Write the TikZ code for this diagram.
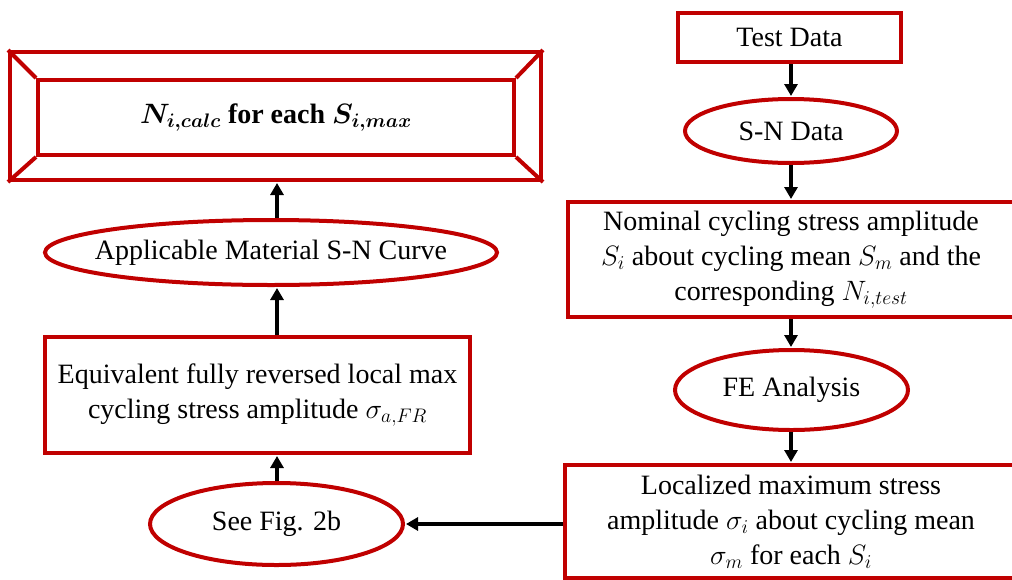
\RequirePackage{fix-cm}
\documentclass[tikz,border=0pt]{standalone}
\usepackage{fontspec}
\setmainfont{LiberationSerif}[Extension=.ttf, UprightFont=*-Regular, BoldFont=*-Bold, ItalicFont=*-Italic, BoldItalicFont=*-BoldItalic]
\usetikzlibrary{shapes.geometric,arrows.meta}
\definecolor{boxred}{HTML}{C00000}
\begin{document}
\begin{tikzpicture}[x=1pt,y=-1pt,
  redbox/.style={draw=boxred, line width=4pt, rectangle, inner sep=0pt},
  redell/.style={draw=boxred, line width=4pt, ellipse, inner sep=0pt},
  txt/.style={font=\fontsize{28}{35}\selectfont, align=center, inner sep=0pt},
  arr/.style={-{Triangle[length=12pt,width=13pt]}, line width=4pt, black, shorten >=1pt}]
\useasboundingbox (0,0) rectangle (1012,579);
% bevelled result box
\node[redbox, minimum width=531pt, minimum height=128pt] (outer) at (275.5,116) {};
\node[redbox, txt, font=\fontsize{28}{35}\selectfont\bfseries\boldmath, minimum width=476pt, minimum height=75pt] (inner) at (276,117.5) {$N_{i,calc}$ for each $S_{i,max}$};
\draw[boxred, line width=4pt] (outer.north west) -- (inner.north west);
\draw[boxred, line width=4pt] (outer.north east) -- (inner.north east);
\draw[boxred, line width=4pt] (outer.south west) -- (inner.south west);
\draw[boxred, line width=4pt] (outer.south east) -- (inner.south east);
% left column
\node[redell, minimum width=452pt, minimum height=65pt] (appl) at (271,252.5) {};
\node[txt] (applt) at (appl.center) {Applicable Material S-N Curve};
\node[redbox, txt, minimum width=425pt, minimum height=116pt] (equiv) at (257.5,395) {Equivalent fully reversed local max\\cycling stress amplitude $\sigma_{a,FR}$};
\node[redell, minimum width=253pt, minimum height=82pt] (seefig) at (276.5,524) {};
\node[txt] (seefigt) at (seefig.center) {See Fig. 2b};
% right column
\node[redbox, txt, minimum width=223pt, minimum height=49pt] (test) at (789.5,37.5) {Test Data};
\node[redell, minimum width=212pt, minimum height=64pt] (sn) at (791,131) {};
\node[txt] (snt) at (sn.center) {S-N Data};
\node[redbox, txt, minimum width=446pt, minimum height=115pt] (nom) at (791,259.5) {Nominal cycling stress amplitude\\$S_i$ about cycling mean $S_m$ and the\\corresponding $N_{i,test}$};
\node[redell, minimum width=233pt, minimum height=80pt] (fe) at (791.5,390) {};
\node[txt] (fet) at (fe.center) {FE Analysis};
\node[redbox, txt, minimum width=452pt, minimum height=113pt] (loc) at (791,521.5) {Localized maximum stress\\amplitude $\sigma_i$ about cycling mean\\$\sigma_m$ for each $S_i$};
% connectors
\coordinate (lc) at (277,0);
\coordinate (rc) at (791,0);
\draw[arr] (rc |- test.south) -- (rc |- sn.north);
\draw[arr] (rc |- sn.south) -- (rc |- nom.north);
\draw[arr] (rc |- nom.south) -- (rc |- fe.north);
\draw[arr] (rc |- fe.south) -- (rc |- loc.north);
\draw[arr] (loc.west |- seefig.east) -- (seefig.east);
\draw[arr] (lc |- seefig.north) -- (lc |- equiv.south);
\draw[arr] (lc |- equiv.north) -- (lc |- appl.south);
\draw[arr] (lc |- appl.north) -- (lc |- outer.south);
\end{tikzpicture}
\end{document}
